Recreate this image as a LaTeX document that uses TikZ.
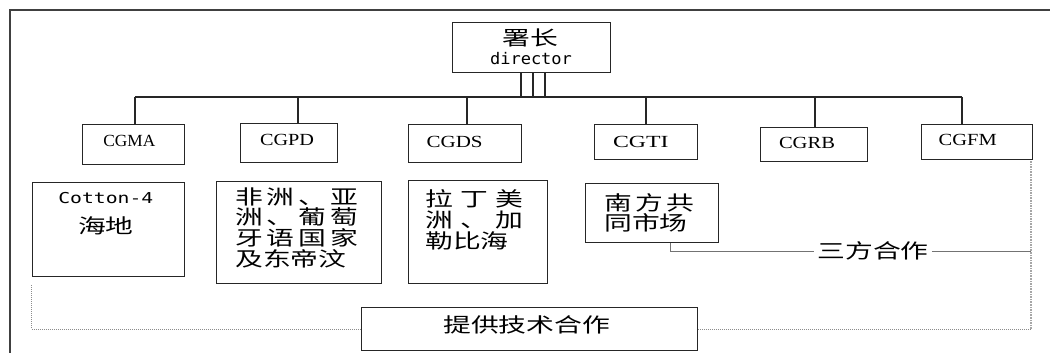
\documentclass[tikz,border=0pt]{standalone}
\usepackage{fontspec}
\usepackage{graphicx}
\setmainfont{Liberation Serif}
\newfontfamily\cjkf{Noto Sans CJK SC}
\newfontfamily\monof{DejaVu Sans Mono}
\newcommand{\cj}[1]{\scalebox{1.39}[1]{\cjkf\fontsize{20}{22}\selectfont #1}}
\newcommand{\fitw}[2]{\resizebox{#1}{\height}{#2}}
\tikzset{
  box/.style={draw=black!85, line width=1.1pt, inner sep=0pt, anchor=north west},
  ln/.style={draw=black!85, line width=1.1pt},
  dotline/.style={draw=black!45, line width=1pt, densely dotted},
  dotlineR/.style={draw=black!35, line width=1.6pt, densely dotted},
  thinln/.style={draw=black!55, line width=0.8pt},
  txt/.style={inner sep=0pt},
  ctxt/.style={inner sep=0pt, anchor=base west},
  cgfont/.style={inner sep=0pt, font=\fontsize{17}{20}\selectfont},
}
\begin{document}
\begin{tikzpicture}[x=1pt,y=-1pt]
\useasboundingbox (0,0) rectangle (1050,353);
\clip (0,0) rectangle (1050,353);
\fill[white] (0,0) rectangle (1050,353);
% outer frame (cropped)
\draw[line width=1.6pt, black!75] (10,370) -- (10,10) -- (1070,10);

% boxes
\node[box, minimum width=158pt, minimum height=50pt] (dir) at (452,22) {};
\node[box, minimum width=102pt, minimum height=40pt] (cgma) at (82,124) {};
\node[box, minimum width=97pt, minimum height=39pt] (cgpd) at (240,123) {};
\node[box, minimum width=113pt, minimum height=38pt] (cgds) at (408,124) {};
\node[box, minimum width=102.5pt, minimum height=35pt] (cgti) at (594,124) {};
\node[box, minimum width=107pt, minimum height=34pt] (cgrb) at (760,127) {};
\node[box, minimum width=111pt, minimum height=35pt] (cgfm) at (921,124) {};
\node[box, minimum width=152.6pt, minimum height=94pt] (cot) at (31.7,182) {};
\node[box, minimum width=164.8pt, minimum height=102.2pt] (afr) at (216,180.5) {};
\node[box, minimum width=138.4pt, minimum height=103.3pt] (lat) at (408.3,180) {};
\node[box, minimum width=133.3pt, minimum height=58.4pt] (nf) at (585,183.3) {};
\node[box, minimum width=336pt, minimum height=43pt] (bot) at (360.7,307) {};

% texts
\node[txt] (dirA) at (530,38.3) {\cj{署长}};
\node[txt] (dirB) at (531,58.3) {\monof\fontsize{16}{18}\selectfont\fitw{82pt}{director}};
\node[cgfont] (cgmaT) at (129.3,140.7) {\fitw{52pt}{CGMA}};
\node[cgfont] (cgpdT) at (287,140) {\fitw{54pt}{CGPD}};
\node[cgfont] (cgdsT) at (454.6,141.7) {\fitw{56pt}{CGDS}};
\node[cgfont] (cgtiT) at (640.8,141.7) {\fitw{55.5pt}{CGTI}};
\node[cgfont] (cgrbT) at (807,143.3) {\fitw{56pt}{CGRB}};
\node[cgfont] (cgfmT) at (967.7,140) {\fitw{58pt}{CGFM}};
\node[txt] (cotA) at (105.8,198) {\monof\fontsize{15}{18}\selectfont\fitw{95pt}{Cotton-4}};
\node[txt] (cotB) at (105.8,225.8) {\cj{海地}};

\node[ctxt] (afr1) at (235,204.1) {\makebox[123pt][s]{\cj{非}\hfill\cj{洲}\hfill\cj{、}\hfill\cj{亚}}};
\node[ctxt] (afr2) at (235,224.8) {\makebox[123pt][s]{\cj{洲}\hfill\cj{、}\hfill\cj{葡}\hfill\cj{萄}}};
\node[ctxt] (afr3) at (235,245.5) {\makebox[123pt][s]{\cj{牙}\hfill\cj{语}\hfill\cj{国}\hfill\cj{家}}};
\node[ctxt] (afr4) at (235,266.2) {\cj{及东帝汶}};

\node[ctxt] (lat1) at (425,206.1) {\makebox[98pt][s]{\cj{拉}\hfill\cj{丁}\hfill\cj{美}}};
\node[ctxt] (lat2) at (425,227.1) {\makebox[98pt][s]{\cj{洲}\hfill\cj{、}\hfill\cj{加}}};
\node[ctxt] (lat3) at (425,248.1) {\cj{勒比海}};

\node[ctxt] (nf1) at (604,210.9) {\makebox[90.5pt][s]{\cj{南}\hfill\cj{方}\hfill\cj{共}}};
\node[ctxt] (nf2) at (604,230.9) {\cj{同市场}};

\node[txt, fill=white, inner xsep=3pt] (san) at (873,251) {\cj{三方合作}};
\node[txt] (botT) at (526.7,324.7) {\cj{提供技术合作}};

% bus
\coordinate (b1) at (135,97);
\coordinate (b2) at (298,97);
\coordinate (b3) at (467,97);
\coordinate (b4) at (646,97);
\coordinate (b5) at (815,97);
\coordinate (b6) at (962,97);
\coordinate (d1) at (521,97);
\coordinate (d2) at (533,97);
\coordinate (d3) at (545,97);
\draw[ln] (b1) -- (b6);
\draw[ln] (b1) -- (b1 |- cgma.north);
\draw[ln] (b2) -- (b2 |- cgpd.north);
\draw[ln] (b3) -- (b3 |- cgds.north);
\draw[ln] (b4) -- (b4 |- cgti.north);
\draw[ln] (b5) -- (b5 |- cgrb.north);
\draw[ln] (b6) -- (b6 |- cgfm.north);
\draw[ln] (d1) -- (d1 |- dir.south);
\draw[ln] (d2) -- (d2 |- dir.south);
\draw[ln] (d3) -- (d3 |- dir.south);

% technical cooperation (dotted)
\coordinate (l1) at ([yshift=-8pt]cot.south west);
\coordinate (rv) at ([xshift=-2pt]cgfm.south east);
\draw[dotline] (l1) |- (bot.west);
\draw[dotline] (bot.east) -- (bot.east -| rv);
\draw[dotlineR] (bot.east -| rv) -- (rv);

% triangular cooperation
\draw[thinln] ([xshift=18.5pt]nf.south) |- (san.west);
\draw[thinln] (san.east) -- (san.east -| rv);
\end{tikzpicture}
\end{document}
